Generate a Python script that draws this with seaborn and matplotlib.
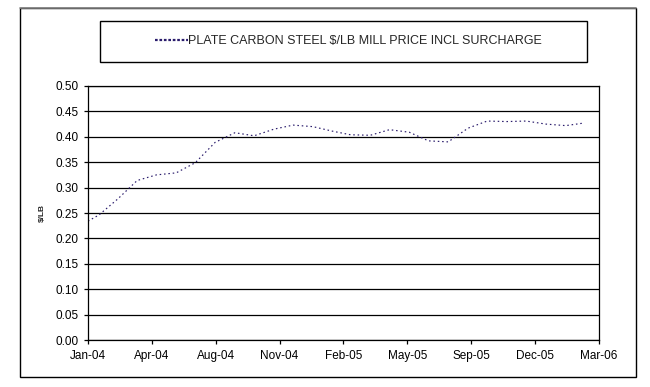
import pandas as pd
import numpy as np
import matplotlib
matplotlib.use("Agg")
import matplotlib.pyplot as plt
import matplotlib.dates as mdates
from matplotlib.patches import Rectangle
from matplotlib.lines import Line2D
import seaborn as sns

# ============================================================
# DATA
# ============================================================

dates = [
    "2004-01-15", "2004-02-01", "2004-03-01", "2004-04-01", "2004-05-01",
    "2004-06-01", "2004-07-01", "2004-08-01", "2004-09-01", "2004-10-01",
    "2004-11-01", "2004-12-01", "2005-01-01", "2005-02-01", "2005-03-01",
    "2005-04-01", "2005-05-01", "2005-06-01", "2005-07-01", "2005-08-01",
    "2005-09-01", "2005-10-01", "2005-11-01", "2005-12-01", "2006-01-01",
    "2006-02-01", "2006-03-01",
]

price = [
    0.234, 0.246, 0.277, 0.314, 0.325,
    0.329, 0.349, 0.389, 0.408, 0.402,
    0.415, 0.423, 0.420, 0.411, 0.404,
    0.403, 0.414, 0.409, 0.392, 0.390,
    0.417, 0.431, 0.430, 0.431, 0.425,
    0.422, 0.427,
]

tick_dates = [
    "2004-01-15", "2004-04-24", "2004-08-02", "2004-11-10", "2005-02-18",
    "2005-05-29", "2005-09-06", "2005-12-15", "2006-03-25",
]

y_ticks = [0.00, 0.05, 0.10, 0.15, 0.20, 0.25, 0.30, 0.35, 0.40, 0.45, 0.50]

series_label = "PLATE CARBON STEEL $/LB MILL PRICE INCL SURCHARGE"
y_label = "$/LB"

LINE_COLOR = "#2a1c6c"

# ============================================================
# FIGURE
# ============================================================

sns.set_style("white")
plt.rcParams["font.family"] = ["Liberation Sans", "DejaVu Sans"]

df = pd.DataFrame({"date": pd.to_datetime(dates), "price": price})

fig = plt.figure(figsize=(6.5, 3.87), dpi=100)
ax = fig.add_axes([0.1354, 0.1214, 0.7861, 0.6564])

sns.lineplot(
    data=df,
    x="date",
    y="price",
    ax=ax,
    color=LINE_COLOR,
    linewidth=0.85,
    linestyle=(0, (1.3, 2.4)),
)

ticks = pd.to_datetime(tick_dates)
ax.set_xlim(ticks[0], ticks[-1])
ax.set_xticks(ticks)
ax.xaxis.set_major_formatter(mdates.DateFormatter("%b-%y"))

ax.set_ylim(0, 0.5)
ax.set_yticks(y_ticks)
ax.set_yticklabels([f"{v:.2f}" for v in y_ticks])

ax.grid(axis="y", color="black", linewidth=0.9)
ax.grid(axis="x", visible=False)
for s in ax.spines.values():
    s.set_color("black")
    s.set_linewidth(0.9)

ax.tick_params(axis="both", which="major", labelsize=8.5, colors="black",
               direction="out", length=3, width=0.9, pad=4,
               left=True, bottom=True)

ax.set_xlabel("")
ax.set_ylabel(y_label, fontsize=6, fontweight="bold")
ax.yaxis.set_label_coords(-0.082, 0.5)

# legend box
fig.patches.append(Rectangle((0.1538, 0.8398), 0.749, 0.106,
                             transform=fig.transFigure, fill=False,
                             edgecolor="black", linewidth=1.0))
handle = Line2D([], [], color=LINE_COLOR, linewidth=1.6,
                linestyle=(0, (1.2, 0.8)))
fig.legend([handle], [series_label], loc="center",
           bbox_to_anchor=(0.536, 0.8928), frameon=False,
           fontsize=9, handlelength=2.6, handletextpad=0.0)

# outer chart border
fig.patches.append(Rectangle((0.0308, 0.0258), 0.9477, 0.9535,
                             transform=fig.transFigure, fill=False,
                             edgecolor="black", linewidth=1.0))
fig.lines.append(Line2D([0.0308, 0.9785], [0.9793, 0.9793],
                        transform=fig.transFigure, color="#808080",
                        linewidth=1.2))

fig.savefig("out.png", dpi=100)
